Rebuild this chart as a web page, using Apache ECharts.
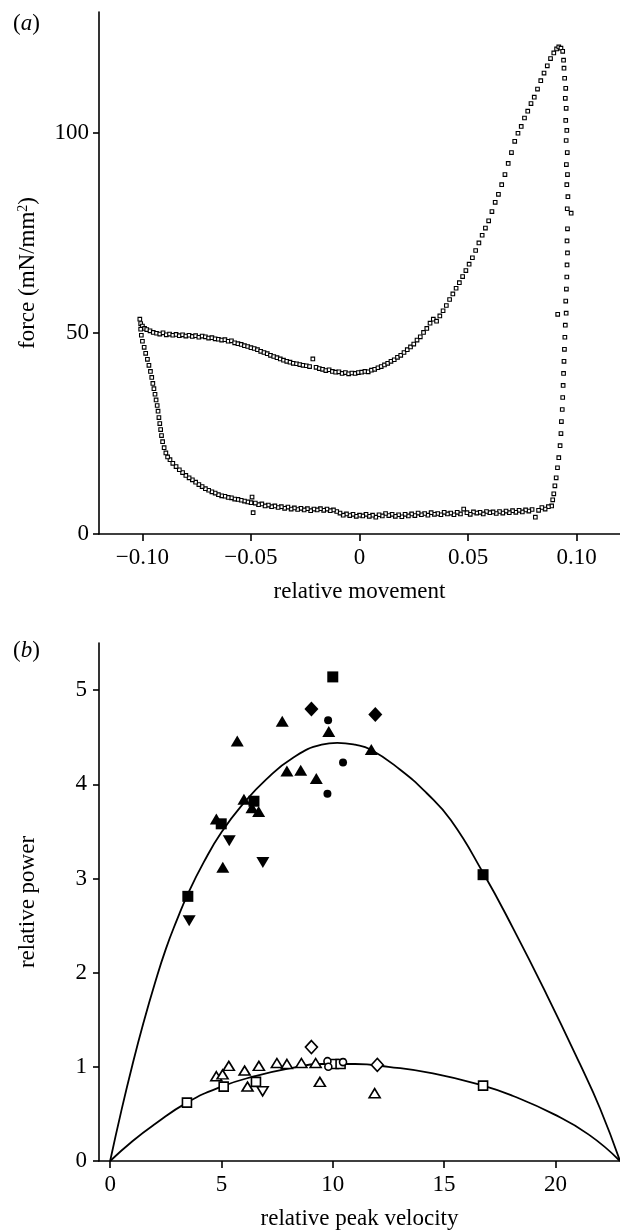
<!DOCTYPE html>
<html>
<head>
<meta charset="utf-8">
<script src="https://cdn.jsdelivr.net/npm/echarts@6/dist/echarts.min.js"></script>
<style>html,body{margin:0;padding:0;background:#fff}#c{width:620px;height:1231px}</style>
</head>
<body>
<div id="c"></div>
<script>
// ---------- Panel (a): work loop ----------
const upperX = [-0.1012,-0.1008,-0.1000,-0.0990,-0.0980,-0.0965,-0.0950,-0.0935,-0.0920,-0.0905,-0.0890,-0.0875,-0.0860,-0.0845,-0.0830,-0.0815,-0.0800,-0.0785,-0.0770,-0.0755,-0.0740,-0.0725,-0.0710,-0.0695,-0.0680,-0.0665,-0.0650,-0.0635,-0.0620,-0.0605,-0.0590,-0.0575,-0.0560,-0.0545,-0.0530,-0.0515,-0.0500,-0.0485,-0.0470,-0.0455,-0.0440,-0.0425,-0.0410,-0.0395,-0.0380,-0.0365,-0.0350,-0.0335,-0.0320,-0.0305,-0.0290,-0.0275,-0.0260,-0.0245,-0.0230,-0.0215,-0.0200,-0.0185,-0.0170,-0.0155,-0.0140,-0.0125,-0.0110,-0.0095,-0.0080,-0.0065,-0.0050,-0.0035,-0.0020,-0.0005,0.0010,0.0025,0.0040,0.0055,0.0070,0.0085,0.0100,0.0115,0.0130,0.0145,0.0160,0.0175,0.0190,0.0205,0.0220,0.0235,0.0250,0.0265,0.0280,0.0295,0.0310,0.0325,0.0340,0.0355,0.0370,0.0385,0.0400,0.0415,0.0430,0.0445,0.0460,0.0475,0.0490,0.0505,0.0520,0.0535,0.0550,0.0565,0.0580,0.0595,0.0610,0.0625,0.0640,0.0655,0.0670,0.0685,0.0700,0.0715,0.0730,0.0745,0.0760,0.0775,0.0790,0.0805,0.0820,0.0835,0.0850,0.0865,0.0880,0.0895,0.0908,0.0918,0.0928,0.0936];
const upperY = [53.5,52.4,51.8,51.2,50.9,50.6,50.2,50.0,49.8,50.1,49.6,49.8,49.5,49.7,49.4,49.6,49.3,49.5,49.2,49.4,49.0,49.3,49.1,48.8,48.9,48.6,48.5,48.3,48.4,48.0,48.1,47.6,47.4,47.2,46.9,46.7,46.4,46.2,45.9,45.5,45.2,44.9,44.5,44.2,43.9,43.6,43.3,43.0,42.8,42.5,42.4,42.2,42.0,41.9,41.7,43.6,41.5,41.2,41.0,40.7,40.9,40.5,40.3,40.4,40.0,40.2,39.9,40.1,40.0,40.2,40.3,40.5,40.4,40.8,41.0,41.4,41.7,42.1,42.5,43.0,43.4,44.0,44.5,45.2,45.9,46.6,47.3,48.3,49.1,50.2,51.2,52.5,53.5,53.0,54.3,55.6,56.9,58.4,59.8,61.2,62.6,64.1,65.6,67.2,68.8,70.6,72.5,74.4,76.2,78.0,80.3,82.6,84.6,87.0,89.5,92.3,95.0,97.8,99.8,101.5,103.6,105.3,107.2,108.8,110.8,112.9,114.8,116.6,118.4,119.8,120.8,121.3,121.0,120.2];
const rightX = [0.0940,0.0942,0.0945,0.0950,0.0948,0.0952,0.0950,0.0955,0.0952,0.0957,0.0953,0.0958,0.0955,0.0960,0.0957,0.0975,0.0958,0.0956,0.0958,0.0956,0.0955,0.0953,0.0950,0.0913,0.0952,0.0948,0.0946,0.0944,0.0942,0.0940,0.0938,0.0936,0.0934,0.0930,0.0928,0.0924,0.0918,0.0912,0.0906,0.0900,0.0895,0.0890,0.0885];
const rightY = [118.0,116.0,113.5,111.0,108.5,106.0,103.0,100.5,98.0,95.0,92.0,89.5,87.0,84.0,81.0,79.9,76.0,73.0,70.0,67.0,64.0,61.0,58.0,54.7,55.0,52.0,49.0,46.0,43.0,40.0,37.0,34.0,31.0,28.0,25.0,22.0,19.0,16.5,14.0,12.0,10.0,8.5,7.0];
const lowerX = [0.0870,0.0855,0.0840,0.0825,0.0810,0.0795,0.0780,0.0765,0.0750,0.0735,0.0720,0.0705,0.0690,0.0675,0.0660,0.0645,0.0630,0.0615,0.0600,0.0585,0.0570,0.0555,0.0540,0.0525,0.0510,0.0495,0.0480,0.0465,0.0450,0.0435,0.0420,0.0405,0.0390,0.0375,0.0360,0.0345,0.0330,0.0315,0.0300,0.0285,0.0270,0.0255,0.0240,0.0225,0.0210,0.0195,0.0180,0.0165,0.0150,0.0135,0.0120,0.0105,0.0090,0.0075,0.0060,0.0045,0.0030,0.0015,0.0000,-0.0015,-0.0030,-0.0045,-0.0060,-0.0075,-0.0090,-0.0105,-0.0120,-0.0135,-0.0150,-0.0165,-0.0180,-0.0195,-0.0210,-0.0225,-0.0240,-0.0255,-0.0270,-0.0285,-0.0300,-0.0315,-0.0330,-0.0345,-0.0360,-0.0375,-0.0390,-0.0405,-0.0420,-0.0435,-0.0450,-0.0465,-0.0480,-0.0490,-0.0495,-0.0500,-0.0515,-0.0530,-0.0545,-0.0560,-0.0575,-0.0590,-0.0605,-0.0620,-0.0635,-0.0650,-0.0665,-0.0680,-0.0695,-0.0710,-0.0725,-0.0740,-0.0755,-0.0770,-0.0785,-0.0800,-0.0815,-0.0830,-0.0845,-0.0860,-0.0873];
const lowerY = [6.8,6.2,6.6,5.9,4.2,6.1,5.7,6.0,5.5,5.9,5.4,5.8,5.3,5.7,5.2,5.6,5.1,5.5,5.3,5.6,5.0,5.4,5.2,5.5,4.9,5.3,6.2,5.0,5.4,4.8,5.2,5.0,5.4,4.8,5.1,4.9,5.3,4.7,5.1,4.8,5.2,4.6,5.0,4.5,4.9,4.3,4.8,4.4,4.9,4.6,5.1,4.5,4.8,4.2,4.7,4.4,4.9,4.5,4.7,4.4,4.9,4.6,5.0,4.7,5.2,5.6,6.0,5.8,6.2,5.9,6.3,6.0,6.2,5.8,6.3,6.0,6.4,6.1,6.5,6.2,6.7,6.4,6.8,6.6,7.0,6.8,7.2,7.0,7.5,7.3,7.7,5.3,9.2,7.8,8.0,8.2,8.4,8.6,8.7,9.0,9.1,9.4,9.5,9.8,10.2,10.5,10.9,11.3,11.8,12.3,12.9,13.5,14.0,14.6,15.3,16.0,16.8,17.6,18.5];
const leftX = [-0.0884,-0.0892,-0.0900,-0.0907,-0.0912,-0.0916,-0.0920,-0.0924,-0.0928,-0.0932,-0.0937,-0.0942,-0.0947,-0.0952,-0.0957,-0.0963,-0.0970,-0.0977,-0.0985,-0.0992,-0.1000,-0.1005,-0.1008];
const leftY = [19.2,20.2,21.5,23.0,24.5,26.0,27.5,29.0,30.6,32.0,33.4,34.8,36.2,37.5,39.0,40.5,42.0,43.5,45.0,46.5,48.0,49.5,51.0];
const xTicksA = [-0.10,-0.05,0,0.05,0.10];
const xTickLabelsA = ['\u22120.10','\u22120.05','0','0.05','0.10'];
const yTicksA = [0,50,100];

// ---------- Panel (b): power vs velocity ----------
const upperCurveX = [0,0.5,1.0,1.5,2.0,2.5,3.0,3.5,4.2,5.0,6.0,7.0,8.2,9.5,10.2,11.0,11.7,13.0,14.2,15.3,16.75,18.1,19.6,21.1,22.0,22.9];
const upperCurveY = [0,0.53,1.02,1.47,1.88,2.25,2.56,2.84,3.17,3.49,3.80,4.05,4.28,4.42,4.44,4.42,4.37,4.16,3.91,3.62,3.06,2.47,1.77,1.03,0.56,0];
const lowerCurveX = [0,1.0,2.0,3.45,5.0,6.5,8.0,9.5,11.0,12.5,14.5,16.75,18.1,19.9,21.5,22.9];
const lowerCurveY = [0,0.21,0.39,0.62,0.79,0.90,0.98,1.03,1.03,1.00,0.93,0.80,0.69,0.50,0.28,0];

const fSquareX = [10.0,6.46,4.99,3.49,16.75];
const fSquareY = [5.14,3.82,3.58,2.81,3.04];
const fDiamondX = [9.04,11.91];
const fDiamondY = [4.80,4.74];
const fCircleX = [9.79,10.46,9.76];
const fCircleY = [4.68,4.23,3.90];
const fTriX = [7.73,9.82,5.71,11.73,7.94,8.56,9.26,6.01,6.37,6.67,4.77,5.06];
const fTriY = [4.67,4.56,4.46,4.37,4.14,4.15,4.06,3.84,3.75,3.71,3.63,3.12];
const fDownX = [5.35,6.86,3.55];
const fDownY = [3.40,3.17,2.55];

const hSquareX = [3.45,5.1,6.55,10.05,10.35,16.75];
const hSquareY = [0.62,0.79,0.84,1.03,1.03,0.80];
const hTriX = [4.77,5.05,5.33,6.04,6.17,6.68,7.49,7.94,8.59,9.23,9.42,11.88];
const hTriY = [0.90,0.92,1.01,0.96,0.79,1.01,1.04,1.03,1.04,1.04,0.84,0.72];
const hDownX = [6.85];
const hDownY = [0.74];
const hDiamondX = [9.04,12.0];
const hDiamondY = [1.21,1.02];
const hCircleX = [9.76,9.8,10.46];
const hCircleY = [1.06,1.0,1.05];
const xTicksB = [0,5,10,15,20];
const yTicksB = [0,1,2,3,4,5];

// ---------- build ----------
const FONT = 'Liberation Serif';
const FS = 23;
const zip = (xs, ys) => xs.map((x, i) => [x, ys[i]]);
const txt = {fontFamily: FONT, fontSize: FS, color: '#000'};
const axLine = {show: true, onZero: false, lineStyle: {color: '#000', width: 1.6}};
const tick = (vals, len) => ({show: true, customValues: vals, length: len, lineStyle: {color: '#000', width: 1.6}});

const loopPts = zip(upperX, upperY).concat(zip(rightX, rightY), zip(lowerX, lowerY), zip(leftX, leftY));

function sc(xs, ys, symbol, size, filled, rotate) {
  return {
    type: 'scatter', xAxisIndex: 1, yAxisIndex: 1, data: zip(xs, ys),
    symbol: symbol, symbolSize: size, symbolRotate: rotate || 0, z: 5,
    itemStyle: filled ? {color: '#000', borderWidth: 0, opacity: 1}
                      : {color: '#fff', borderColor: '#000', borderWidth: 1.6, opacity: 1},
    emphasis: {disabled: true}
  };
}
function curve(xs, ys) {
  return {type: 'line', xAxisIndex: 1, yAxisIndex: 1, data: zip(xs, ys), smooth: 0.5,
    showSymbol: false, symbol: 'none', z: 3, lineStyle: {color: '#000', width: 1.8}, emphasis: {disabled: true}};
}

const chart = echarts.init(document.getElementById('c'), null, {renderer: 'canvas'});
chart.setOption({
  animation: false,
  backgroundColor: '#fff',
  title: [
    {text: '({i|a})', left: 8, top: 7, textStyle: Object.assign({fontWeight: 'normal', rich: {i: Object.assign({fontStyle: 'italic'}, txt)}}, txt)},
    {text: '({i|b})', left: 8, top: 634, textStyle: Object.assign({fontWeight: 'normal', rich: {i: Object.assign({fontStyle: 'italic'}, txt)}}, txt)}
  ],
  grid: [
    {left: 99, top: 12, width: 521, height: 522},
    {left: 99, top: 643, width: 521, height: 522}
  ],
  xAxis: [
    {gridIndex: 0, type: 'value', min: -0.12, max: 0.12, axisLine: axLine, axisTick: tick(xTicksA, 7),
     axisLabel: Object.assign({customValues: xTicksA, margin: 12,
       formatter: v => { const i = xTicksA.findIndex(t => Math.abs(t - v) < 1e-9); return i >= 0 ? xTickLabelsA[i] : ''; }}, txt),
     splitLine: {show: false}, name: 'relative movement', nameLocation: 'middle', nameGap: 46, nameTextStyle: txt},
    {gridIndex: 1, type: 'value', min: -0.5, max: 22.9, axisLine: axLine, axisTick: tick(xTicksB, 7),
     axisLabel: Object.assign({customValues: xTicksB, margin: 12}, txt),
     splitLine: {show: false}, name: 'relative peak velocity', nameLocation: 'middle', nameGap: 46, nameTextStyle: txt}
  ],
  yAxis: [
    {gridIndex: 0, type: 'value', min: 0, max: 130, axisLine: axLine, axisTick: tick(yTicksA, 6),
     axisLabel: Object.assign({customValues: yTicksA, margin: 10}, txt), splitLine: {show: false},
     name: 'force (mN/mm{sup|2})', nameLocation: 'middle', nameGap: 60,
     nameTextStyle: Object.assign({rich: {sup: {fontFamily: FONT, fontSize: 14, color: '#000', verticalAlign: 'top', padding: [0, 0, 8, 0]}}}, txt)},
    {gridIndex: 1, type: 'value', min: 0, max: 5.5, axisLine: axLine, axisTick: tick(yTicksB, 6),
     axisLabel: Object.assign({customValues: yTicksB, margin: 12}, txt), splitLine: {show: false},
     name: 'relative power', nameLocation: 'middle', nameGap: 60, nameTextStyle: txt}
  ],
  series: [
    {type: 'scatter', xAxisIndex: 0, yAxisIndex: 0, data: loopPts, symbol: 'rect', symbolSize: 3.6,
     itemStyle: {color: '#fff', borderColor: '#000', borderWidth: 1.1, opacity: 1}, emphasis: {disabled: true}},
    curve(upperCurveX, upperCurveY),
    curve(lowerCurveX, lowerCurveY),
    sc(fSquareX, fSquareY, 'rect', 11, true),
    sc(fDiamondX, fDiamondY, 'diamond', [14, 15], true),
    sc(fCircleX, fCircleY, 'circle', 8, true),
    sc(fTriX, fTriY, 'triangle', [13, 11], true),
    sc(fDownX, fDownY, 'triangle', [13, 11], true, 180),
    sc(hSquareX, hSquareY, 'rect', 9, false),
    sc(hTriX, hTriY, 'triangle', [11, 9], false),
    sc(hDownX, hDownY, 'triangle', [11, 9], false, 180),
    sc(hDiamondX, hDiamondY, 'diamond', [12, 13], false),
    sc(hCircleX, hCircleY, 'circle', 7, false)
  ]
});
</script>
</body>
</html>
